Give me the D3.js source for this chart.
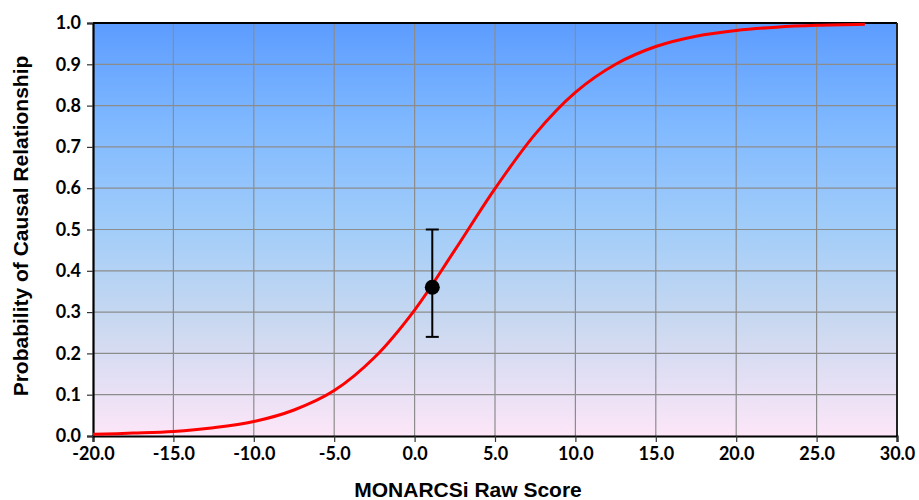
<!DOCTYPE html>
<html><head><meta charset="utf-8">
<script src="https://cdn.jsdelivr.net/npm/d3@7"></script>
<style>body{margin:0;background:#fff}svg{display:block}</style>
</head><body>
<svg id="c" width="919" height="500"></svg>
<script>
// Curve values
const curveX = [-20, -17.5, -15, -12.5, -10, -7.5, -5, -2.5, 0, 2.5, 5, 7.5, 10, 12.5, 15, 17.5, 20, 22.5, 25, 28];
const curveY = [0.004, 0.007, 0.011, 0.02, 0.035, 0.063, 0.11, 0.19, 0.305, 0.45, 0.599, 0.731, 0.832, 0.900, 0.943, 0.968, 0.982, 0.990, 0.9945, 0.997];
// Highlighted point with error bar
const pointX = [1.1];
const pointY = [0.36];
const errLow = [0.24];
const errHigh = [0.50];
// Tick labels
const xTicks = [-20, -15, -10, -5, 0, 5, 10, 15, 20, 25, 30];
const yTicks = [0, 0.1, 0.2, 0.3, 0.4, 0.5, 0.6, 0.7, 0.8, 0.9, 1.0];

const svg = d3.select("#c");
const L = 93, R = 897, T = 23, B = 436;
const x = d3.scaleLinear().domain([-20, 30]).range([L, R]);
const y = d3.scaleLinear().domain([0, 1]).range([B, T]);

const defs = svg.append("defs");
const g = defs.append("linearGradient").attr("id", "bg").attr("x1", 0).attr("y1", 0).attr("x2", 0).attr("y2", 1);
[["0%", "#5c9cff"], ["25%", "#80b9ff"], ["50%", "#a2cdf9"], ["72%", "#c8d8f0"], ["100%", "#fde6f8"]]
  .forEach(([o, c]) => g.append("stop").attr("offset", o).attr("stop-color", c));

svg.append("rect").attr("x", L).attr("y", T).attr("width", R - L).attr("height", B - T).attr("fill", "url(#bg)");

// grid
svg.append("g").selectAll("line").data(xTicks.slice(1, -1)).join("line")
  .attr("x1", d => x(d)).attr("x2", d => x(d)).attr("y1", T).attr("y2", B)
  .attr("stroke", "#8c8c8c").attr("stroke-width", 1.2);
svg.append("g").selectAll("line").data(yTicks.slice(1, -1)).join("line")
  .attr("x1", L).attr("x2", R).attr("y1", d => y(d)).attr("y2", d => y(d))
  .attr("stroke", "#8c8c8c").attr("stroke-width", 1.2);

// border
svg.append("line").attr("x1", L).attr("x2", R).attr("y1", T).attr("y2", T).attr("stroke", "#000").attr("stroke-width", 2);
svg.append("line").attr("x1", R).attr("x2", R).attr("y1", T).attr("y2", B).attr("stroke", "#222").attr("stroke-width", 2);

// axes
const fmt = d => d3.format(".1f")(d).replace("\u2212", "-");
const xAxis = svg.append("g").attr("transform", `translate(0,${B})`)
  .call(d3.axisBottom(x).tickValues(xTicks).tickFormat(fmt).tickSizeOuter(0).tickSize(6).tickPadding(5));
const yAxis = svg.append("g").attr("transform", `translate(${L},0)`)
  .call(d3.axisLeft(y).tickValues(yTicks).tickFormat(fmt).tickSizeOuter(0).tickSize(6).tickPadding(6));
[xAxis, yAxis].forEach(a => {
  a.select(".domain").attr("stroke", "#000").attr("stroke-width", 2.2);
  a.selectAll(".tick line").attr("stroke", "#333").attr("stroke-width", 1.2);
  a.selectAll("text").attr("font-family", "Lato, 'Open Sans', sans-serif").attr("font-weight", "bold")
    .attr("font-size", 18).attr("fill", "#000");
});

// curve
const pts = curveX.map((d, i) => [d, curveY[i]]);
svg.append("path").datum(pts)
  .attr("d", d3.line().x(d => x(d[0])).y(d => y(d[1])).curve(d3.curveCatmullRom.alpha(0.5)))
  .attr("fill", "none").attr("stroke", "#ff0000").attr("stroke-width", 3);

// error bar + point
pointX.forEach((px, i) => {
  const cx = x(px);
  svg.append("line").attr("x1", cx).attr("x2", cx).attr("y1", y(errLow[i])).attr("y2", y(errHigh[i])).attr("stroke", "#000").attr("stroke-width", 2);
  [errLow[i], errHigh[i]].forEach(v => svg.append("line").attr("x1", cx - 6.5).attr("x2", cx + 6.5).attr("y1", y(v)).attr("y2", y(v)).attr("stroke", "#000").attr("stroke-width", 2));
  svg.append("circle").attr("cx", cx).attr("cy", y(pointY[i])).attr("r", 7.5).attr("fill", "#000");
});

// titles
svg.append("text").attr("x", 468).attr("y", 497).attr("text-anchor", "middle")
  .attr("font-family", "'Liberation Sans', Arial, sans-serif").attr("font-weight", "bold").attr("font-size", 21)
  .text("MONARCSi Raw Score");
svg.append("text").attr("transform", "translate(28,226) rotate(-90)").attr("text-anchor", "middle")
  .attr("font-family", "'Liberation Sans', Arial, sans-serif").attr("font-weight", "bold").attr("font-size", 21)
  .text("Probability of Causal Relationship");
</script>
</body></html>
